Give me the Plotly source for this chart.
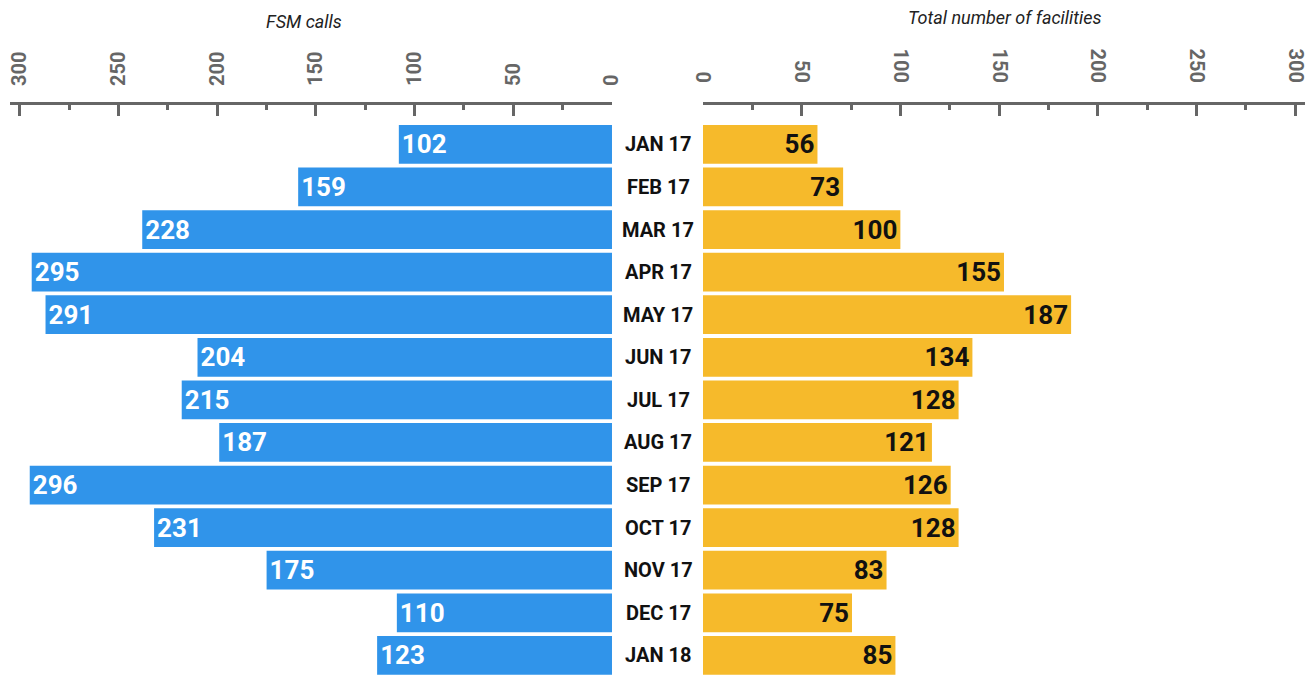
import plotly.graph_objects as go

months = ["JAN 17", "FEB 17", "MAR 17", "APR 17", "MAY 17", "JUN 17", "JUL 17",
          "AUG 17", "SEP 17", "OCT 17", "NOV 17", "DEC 17", "JAN 18"]

# printed labels
fsm_calls = [102, 159, 228, 295, 291, 204, 215, 187, 296, 231, 175, 110, 123]
facilities = [56, 73, 100, 155, 187, 134, 128, 121, 126, 128, 83, 75, 85]

# bar lengths as drawn in the source (they don't always match the labels)
fsm_bar_len = [108, 159, 238, 294, 287, 210, 218, 199, 295, 232, 175, 109, 119]
fac_bar_len = [58, 71, 100, 152.5, 186.5, 136.5, 129.5, 116, 125.5, 129.5, 93, 75.5, 97.5]

tick_vals = [0, 50, 100, 150, 200, 250, 300]

BLUE = "#3094EA"
YELLOW = "#F6BA2B"
GREY = "#666666"
FONT = "Roboto"

fig = go.Figure()
fig.add_trace(
    go.Bar(
        x=fsm_bar_len, y=months, orientation="h",
        text=fsm_calls, texttemplate="%{text}",
        textposition="inside", insidetextanchor="end", textangle=0,
        textfont=dict(family=FONT, size=26, color="white", weight="bold"),
        marker=dict(color=BLUE, line=dict(width=0)),
        xaxis="x", yaxis="y", hoverinfo="skip",
    )
)
fig.add_trace(
    go.Bar(
        x=fac_bar_len, y=months, orientation="h",
        text=facilities, texttemplate="%{text}",
        textposition="inside", insidetextanchor="end", textangle=0,
        textfont=dict(family=FONT, size=26, color="#111111", weight="bold"),
        marker=dict(color=YELLOW, line=dict(width=0)),
        xaxis="x2", yaxis="y2", hoverinfo="skip",
    )
)

axis_common = dict(
    side="top",
    automargin=False,
    showgrid=False, zeroline=False,
    showline=True, linecolor=GREY, linewidth=3,
    ticks="inside", ticklen=11, tickwidth=3, tickcolor=GREY,
    tickvals=tick_vals,
    tickfont=dict(family=FONT, size=20, color=GREY, weight="bold"),
    ticklabelstandoff=12,
    ticklabeloverflow="allow",
    minor=dict(dtick=25, tick0=0, ticks="inside", ticklen=5, tickwidth=3, tickcolor=GREY),
    fixedrange=True,
)

# the page body adds an 8px offset, so margins are pulled in by 8px
fig.update_layout(
    xaxis=dict(domain=[0, 0.4645], range=[305, 0], anchor="y", tickangle=-90, **axis_common),
    xaxis2=dict(domain=[0.5347, 1], range=[0, 305.5], anchor="y2", tickangle=90, **axis_common),
    yaxis=dict(domain=[0, 1], range=[12.46, -0.925], visible=False, anchor="x", automargin=False),
    yaxis2=dict(domain=[0, 1], range=[12.46, -0.925], visible=False, anchor="x2", matches="y",
                automargin=False),
    bargap=0.09,
    showlegend=False,
    margin=dict(l=2, r=15, t=97, b=8),
    width=1313, height=675,
    paper_bgcolor="white",
    plot_bgcolor="white",
    font=dict(family=FONT, color="#222222"),
)

annotations = []
for m in months:
    annotations.append(dict(
        x=0.5, xref="paper", y=m, yref="y",
        text=m, showarrow=False, xanchor="center", yanchor="middle",
        font=dict(family=FONT, size=20, color="#111111", weight="bold"),
    ))
annotations.append(dict(
    x=0.2272, xref="paper", y=1.1465, yref="paper", text="FSM calls",
    showarrow=False, xanchor="center", yanchor="middle",
    font=dict(family=FONT, size=18, color="#222222", style="italic"),
))
annotations.append(dict(
    x=0.7677, xref="paper", y=1.153, yref="paper", text="Total number of facilities",
    showarrow=False, xanchor="center", yanchor="middle",
    font=dict(family=FONT, size=18, color="#222222", style="italic"),
))
fig.update_layout(annotations=annotations)

fig.write_html("out.html")
